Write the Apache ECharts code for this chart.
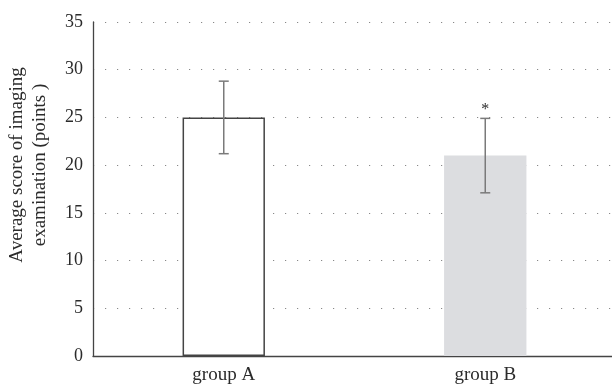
<!DOCTYPE html>
<html>
<head>
<meta charset="utf-8">
<script src="https://cdn.jsdelivr.net/npm/echarts@6/dist/echarts.min.js"></script>
<style>
  html, body { margin: 0; padding: 0; background: #fff; }
  #chart { width: 612px; height: 385px; }
</style>
</head>
<body>
<div id="chart"></div>
<script>
// Imaging examination scores by group (mean with error range)
const categories = ['group A', 'group B'];
const meanScores = [25, 21];
const errLow = [21.2, 17.1];
const errHigh = [28.8, 24.9];
const sigMarks = ['', '*'];
const yTicks = [0, 5, 10, 15, 20, 25, 30, 35];
const yTitle = 'Average score of imaging\nexamination (points )';

const FONT = '"Liberation Serif", "DejaVu Serif", serif';
const TEXT = '#2b2b2b';

const chart = echarts.init(document.getElementById('chart'), null, { renderer: 'canvas' });

chart.setOption({
  animation: false,
  backgroundColor: '#ffffff',
  grid: {
    left: 93, top: 22, bottom: 29, width: 523,
    containLabel: false,
    outerBoundsMode: 'none'
  },
  graphic: [{
    type: 'text',
    x: 29, y: 165,
    rotation: Math.PI / 2,
    style: {
      text: yTitle,
      align: 'center',
      verticalAlign: 'middle',
      fill: TEXT,
      font: '19px ' + FONT,
      lineHeight: 23
    }
  }],
  xAxis: {
    type: 'category',
    data: categories,
    axisLine: { lineStyle: { color: '#444', width: 1.3 } },
    axisTick: { show: false },
    axisLabel: { color: TEXT, fontFamily: FONT, fontSize: 19, margin: 10 }
  },
  yAxis: {
    type: 'value',
    min: yTicks[0],
    max: yTicks[yTicks.length - 1],
    interval: 5,
    axisLine: { show: true, lineStyle: { color: '#444', width: 1.3 } },
    axisTick: { show: false },
    axisLabel: { color: TEXT, fontFamily: FONT, fontSize: 18, margin: 10 },
    splitLine: { show: true, lineStyle: { color: '#888', width: 1, type: [1.2, 10.8] } }
  },
  series: [
    {
      type: 'bar',
      barWidth: '31.5%',
      data: meanScores.map((v, i) => ({
        value: v,
        itemStyle: i === 0
          ? { color: '#ffffff', borderColor: '#444', borderWidth: 1.5 }
          : { color: '#dcdde0', borderWidth: 0 }
      })),
      z: 2
    },
    {
      type: 'custom',
      z: 3,
      data: categories.map((c, i) => [i, errLow[i], errHigh[i]]),
      renderItem: function (params, api) {
        const i = api.value(0);
        const lo = api.coord([i, api.value(1)]);
        const hi = api.coord([i, api.value(2)]);
        const cap = 5;
        const stroke = { stroke: '#7a7a7a', lineWidth: 1.5 };
        const children = [
          { type: 'line', shape: { x1: lo[0], y1: lo[1], x2: hi[0], y2: hi[1] }, style: stroke },
          { type: 'line', shape: { x1: lo[0] - cap, y1: lo[1], x2: lo[0] + cap, y2: lo[1] }, style: stroke },
          { type: 'line', shape: { x1: hi[0] - cap, y1: hi[1], x2: hi[0] + cap, y2: hi[1] }, style: stroke }
        ];
        if (sigMarks[params.dataIndex]) {
          children.push({
            type: 'text',
            style: {
              text: sigMarks[params.dataIndex],
              x: hi[0], y: hi[1] - 1,
              align: 'center', verticalAlign: 'bottom',
              fill: TEXT, font: '16px ' + FONT
            }
          });
        }
        return { type: 'group', children: children };
      }
    }
  ]
});
</script>
</body>
</html>
